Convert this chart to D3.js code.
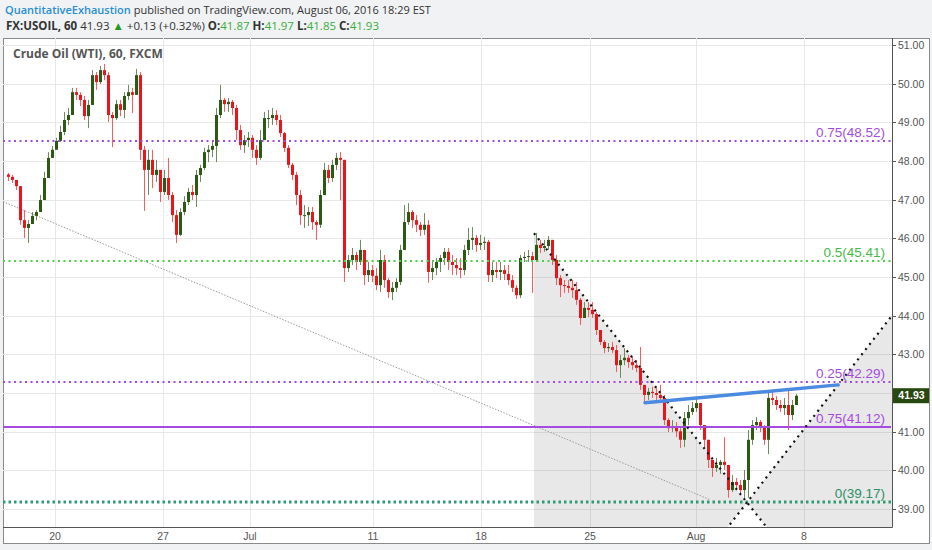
<!DOCTYPE html>
<html><head><meta charset="utf-8">
<script src="https://cdn.jsdelivr.net/npm/d3@7"></script>
<style>
html,body{margin:0;padding:0;background:#f0f2f4;}
svg{display:block;}
</style></head><body>
<svg id="c" width="932" height="550"></svg>
<script>
// ---------------- DATA ----------------
const firstOpen = 47.65;
const closes = [
47.59,47.51,47.35,46.47,46.27,46.37,46.58,46.68,46.99,47.56,
48.08,48.29,48.52,48.75,49.06,49.19,49.78,49.71,49.58,49.16,
49.45,50.22,50.04,50.35,50.22,49.19,49.11,49.47,49.32,49.68,
49.78,49.71,50.22,48.29,47.77,48.03,47.64,47.77,47.20,47.56,
47.12,46.60,46.09,46.68,46.94,47.20,47.12,47.64,47.82,48.23,
48.29,48.39,49.19,49.58,49.47,49.53,49.37,48.80,48.41,48.54,
48.60,48.29,48.08,48.54,49.11,49.11,49.19,49.06,48.72,48.34,
47.90,47.64,47.12,46.60,46.60,46.68,46.42,46.35,47.12,47.77,
47.56,47.90,48.08,48.03,45.23,45.44,45.57,45.39,45.70,45.05,
45.18,45.03,44.79,45.44,44.92,44.61,44.72,44.87,45.70,46.42,
46.68,46.47,46.35,46.22,46.35,45.13,45.23,45.39,45.49,45.65,
45.39,45.31,45.23,45.18,45.70,45.96,46.01,45.83,45.88,45.91,
45.05,45.18,45.13,45.18,45.08,44.92,44.72,44.53,45.49,45.52,
45.54,45.44,45.83,45.75,45.80,45.96,45.44,44.97,44.79,44.77,
44.72,44.66,44.41,43.94,44.20,44.15,44.04,43.63,43.32,43.16,
43.19,43.11,42.72,42.85,42.91,42.80,42.72,42.65,42.21,41.95,
42.03,42.00,41.95,41.87,41.30,41.09,41.12,41.01,40.79,41.35,
41.51,41.61,41.74,41.17,40.79,40.27,40.06,40.14,40.22,40.14,
39.49,39.70,39.62,39.49,39.75,40.79,41.17,41.25,41.12,40.79,
41.87,41.82,41.69,41.61,41.69,41.43,41.69,41.93];
const highs = [
47.69,47.64,47.51,46.99,46.73,46.47,46.68,46.73,47.12,47.72,
48.23,48.39,48.60,48.91,49.27,49.37,49.89,49.89,49.78,49.68,
49.58,50.35,50.30,50.46,50.51,50.30,49.27,49.58,49.58,49.78,
49.97,49.89,50.38,50.30,48.39,48.29,48.29,48.03,47.77,47.77,
48.08,47.20,46.73,46.78,47.09,47.30,47.38,47.77,47.90,48.34,
48.41,48.54,49.37,49.97,49.63,49.63,49.58,49.45,48.93,48.67,
48.75,48.67,48.41,48.80,49.27,49.32,49.37,49.32,49.19,48.75,
48.41,47.95,47.72,47.25,46.86,46.81,46.81,46.47,47.25,47.95,
47.90,48.03,48.21,48.23,48.03,45.57,45.75,45.65,45.96,45.70,
45.39,45.31,45.23,45.70,45.57,44.97,44.87,44.97,45.83,46.86,
46.91,46.73,46.60,46.42,46.65,46.47,45.39,45.49,45.57,45.75,
45.75,45.57,45.49,45.49,45.83,46.27,46.29,46.09,46.09,46.04,
45.96,45.39,45.39,45.39,45.31,45.31,45.05,44.79,45.57,45.65,
45.70,45.65,46.14,45.96,45.96,46.06,45.96,45.57,45.05,44.92,
44.92,44.92,44.87,44.46,44.35,44.35,44.35,44.09,43.63,43.37,
43.29,43.32,43.24,42.98,43.16,42.98,42.93,42.85,43.19,42.21,
42.13,42.16,42.13,42.21,41.95,41.35,41.30,41.25,41.09,41.51,
41.69,41.77,41.85,41.74,41.17,40.79,40.27,40.32,40.27,40.86,
40.14,39.88,39.80,39.75,40.01,41.04,41.30,41.38,41.30,41.17,
42.00,42.03,41.92,41.82,41.87,42.08,41.82,41.97];
const lows = [
47.48,47.43,47.25,46.35,46.01,45.88,46.42,46.47,46.68,46.99,
47.56,48.08,48.29,48.49,48.67,48.93,49.19,49.58,49.42,49.06,
48.85,49.45,49.84,49.99,50.09,49.01,48.36,49.06,49.16,49.11,
49.58,49.24,49.71,48.03,46.71,47.12,47.30,47.46,46.94,47.12,
46.99,46.42,45.88,46.06,46.60,46.86,46.99,46.81,47.46,47.77,
47.97,48.10,47.97,49.11,49.27,49.27,49.19,48.54,48.29,48.21,
48.36,48.08,47.90,48.03,48.67,48.85,48.93,48.93,48.62,48.23,
47.82,47.51,46.86,46.35,46.27,46.32,46.22,45.96,46.27,47.12,
47.43,47.46,47.77,46.99,44.87,45.13,45.31,45.18,45.31,44.79,
44.87,44.87,44.66,44.61,44.72,44.46,44.40,44.61,44.79,45.70,
46.35,46.27,46.16,46.06,46.09,44.85,44.92,45.05,45.13,45.31,
45.18,45.05,45.05,44.97,45.05,45.57,45.70,45.65,45.70,45.70,
44.87,44.87,44.97,44.92,44.92,44.79,44.61,44.43,44.46,45.39,
45.39,44.59,45.39,45.62,45.65,45.70,45.31,44.79,44.48,44.59,
44.59,44.46,44.28,43.76,43.94,43.96,43.94,43.50,43.24,43.03,
43.06,43.03,42.54,42.39,42.72,42.65,42.60,42.54,42.08,41.74,
41.82,41.87,41.82,41.82,41.17,40.99,40.99,40.86,40.58,40.60,
41.17,41.43,41.51,41.04,40.58,40.06,39.83,39.96,39.91,40.01,
39.29,39.44,39.49,39.36,39.29,39.29,40.66,41.04,40.99,40.66,
40.42,41.69,41.56,41.51,41.43,41.04,41.30,41.85];

const priceTicks = [39,40,41,42,43,44,45,46,47,48,49,50,51];
const timeTickLabels = ["20","27","Jul","11","18","25","Aug","8"];
const timeTickIndex = [11.75,38.75,60.5,91.25,118.25,145.5,172,199];

const fibPrices = [48.52,45.41,42.29,41.12,39.17];
const fibLabels = ["0.75(48.52)","0.5(45.41)","0.25(42.29)","0.75(41.12)","0(39.17)"];

// drawings, as [barIndex, price]
const fanTop = [131.5, 46.13];
const fanPivot = [184.75, 39.17];
const fanRise = [220.75, 43.97];
const blueLine = [[159.25, 41.75],[207.5, 42.21]];
const grayLine = [[-1.25, 46.95],[175.5, 39.24]];

const lastPrice = 41.93;

// ---------------- LAYOUT ----------------
const W = 932, H = 550;
const L = 3, R = 892, T = 38, B = 527, AX = 929, AB = 543;
const svg = d3.select("#c");
const x = d3.scaleLinear().domain([0, 197]).range([8, 796]);
const y = d3.scaleLinear().domain([39, 51]).range([509, 45]);

svg.append("defs").append("clipPath").attr("id","plot")
  .append("rect").attr("x",L).attr("y",T).attr("width",R-L).attr("height",B-T);

// chart frame background
svg.append("rect").attr("x",L+0.5).attr("y",T+0.5).attr("width",AX-L).attr("height",AB-T)
  .attr("fill","#fff").attr("stroke","#8a8a8a");

const plot = svg.append("g").attr("clip-path","url(#plot)");

// grid
plot.selectAll(".hg").data(priceTicks).join("line")
  .attr("x1",L).attr("x2",R).attr("y1",d=>Math.round(y(d))+0.5).attr("y2",d=>Math.round(y(d))+0.5)
  .attr("stroke","#e8e8e8");
plot.selectAll(".vg").data(timeTickIndex).join("line")
  .attr("y1",T).attr("y2",B).attr("x1",d=>Math.round(x(d))+0.5).attr("x2",d=>Math.round(x(d))+0.5)
  .attr("stroke","#e8e8e8");

// fan lines (screen coords from data)
const P = p => [x(p[0]), y(p[1])];
const pTop = P(fanTop), pPiv = P(fanPivot), pRise = P(fanRise);
const sD = (pPiv[1]-pTop[1])/(pPiv[0]-pTop[0]);
const sA = (pRise[1]-pPiv[1])/(pRise[0]-pPiv[0]);
const xDbot = pPiv[0] + (B - pPiv[1])/sD;
const xAbot = pPiv[0] + (B - pPiv[1])/sA;
const leftPoly = [[pTop[0],pTop[1]],[pPiv[0],pPiv[1]],[xAbot,B],[pTop[0],B]];
const rightPoly = [[pPiv[0],pPiv[1]],[xDbot,B],[R,B],[R,pPiv[1]+sA*(R-pPiv[0])]];
[leftPoly,rightPoly].forEach(pg=>{
  plot.append("path").attr("d","M"+pg.map(p=>p.join(",")).join("L")+"Z")
    .attr("fill","rgba(110,110,110,0.16)");
});

// thin gray diagonal
plot.append("line")
  .attr("x1",x(grayLine[0][0])).attr("y1",y(grayLine[0][1]))
  .attr("x2",x(grayLine[1][0])).attr("y2",y(grayLine[1][1]))
  .attr("stroke","#9a9a9a").attr("stroke-width",1).attr("stroke-dasharray","1.5,1.5");

// candles
const data = closes.map((c,i)=>({i, o: i===0?firstOpen:closes[i-1], c, h: highs[i], l: lows[i]}));
const cg = plot.append("g");
data.forEach(d=>{
  const up = d.c >= d.o;
  const hi = Math.max(d.h, d.o, d.c), lo = Math.min(d.l, d.o, d.c);
  const cx = Math.round(x(d.i));
  cg.append("line").attr("x1",cx+0.5).attr("x2",cx+0.5).attr("y1",y(hi)).attr("y2",y(lo))
    .attr("stroke", up ? "#6f8a5f" : "#ff5a5a").attr("stroke-width",1);
  const yt = y(Math.max(d.o,d.c)), yb = y(Math.min(d.o,d.c));
  cg.append("rect").attr("x",cx-1).attr("width",3).attr("y",yt).attr("height",Math.max(1,yb-yt))
    .attr("fill", up ? "#2c5a14" : "#e8161b");
});

// fib levels
const fibColor = ["#a64be0","#4ccf4c","#a64be0","#a64be0","#2e9a72"];
const fibText = ["#a64be0","#44bb44","#a64be0","#a64be0","#2e8f68"];
fibPrices.forEach((p,k)=>{
  const yy = Math.round(y(p));
  const ln = plot.append("line").attr("x1",L).attr("x2",R-1).attr("y1",yy).attr("y2",yy)
    .attr("stroke",fibColor[k]);
  if (k===3) ln.attr("stroke-width",2);
  else if (k===4) ln.attr("stroke-width",3).attr("stroke-dasharray","2.5,3");
  else ln.attr("stroke-width",2).attr("stroke-dasharray","2,3.5");
  svg.append("text").attr("x",885).attr("y",yy-4).attr("text-anchor","end")
    .attr("font-family","Liberation Sans, Arial, sans-serif").attr("font-size",13.5)
    .attr("fill",fibText[k]).text(fibLabels[k]);
});

// fan dotted lines
plot.append("line").attr("x1",pTop[0]).attr("y1",pTop[1]).attr("x2",xDbot+10).attr("y2",B+10*sD)
  .attr("stroke","#111").attr("stroke-width",2.2).attr("stroke-dasharray","2,4.5");
plot.append("line").attr("x1",xAbot-10).attr("y1",B-10*sA).attr("x2",pRise[0]).attr("y2",pRise[1])
  .attr("stroke","#111").attr("stroke-width",2.2).attr("stroke-dasharray","2,4.5");

// blue trend line
plot.append("line")
  .attr("x1",x(blueLine[0][0])).attr("y1",y(blueLine[0][1]))
  .attr("x2",x(blueLine[1][0])).attr("y2",y(blueLine[1][1]))
  .attr("stroke","#4a8ae0").attr("stroke-width",3.5).attr("stroke-linecap","round");

// plot/axis separators
svg.append("line").attr("x1",R+0.5).attr("x2",R+0.5).attr("y1",T).attr("y2",B+0.5).attr("stroke","#555");
svg.append("line").attr("x1",L).attr("x2",R+0.5).attr("y1",B+0.5).attr("y2",B+0.5).attr("stroke","#555");

// price axis
const ly = y(lastPrice);
const ya = svg.append("g");
priceTicks.forEach(p=>{
  const yy = Math.round(y(p))+0.5;
  ya.append("line").attr("x1",R).attr("x2",R+4).attr("y1",yy).attr("y2",yy).attr("stroke","#555");
  if (Math.abs(yy-ly) < 13) return; // hidden behind the last-price label
  ya.append("text").attr("x",R+6).attr("y",yy).attr("dy","0.35em")
    .attr("font-family","Liberation Sans Narrow, Liberation Sans, Arial, sans-serif").attr("font-size",10.5)
    .attr("fill","#555").text(p.toFixed(2));
});
// last price label
svg.append("rect").attr("x",R+1).attr("y",ly-7.5).attr("width",AX-R-1).attr("height",15).attr("fill","#27480f");
svg.append("text").attr("x",(R+AX)/2+1).attr("y",ly).attr("dy","0.36em").attr("text-anchor","middle")
  .attr("font-family","Liberation Sans, Arial, sans-serif").attr("font-size",10.5).attr("font-weight","bold")
  .attr("fill","#fff").text(lastPrice.toFixed(2));

// time axis
timeTickIndex.forEach((t,k)=>{
  svg.append("text").attr("x",x(t)).attr("y",540).attr("text-anchor","middle")
    .attr("font-family","Liberation Sans Narrow, Liberation Sans, Arial, sans-serif").attr("font-size",10.5)
    .attr("fill","#555").text(timeTickLabels[k]);
});

// chart title
svg.append("text").attr("x",13).attr("y",58)
  .attr("font-family","Open Sans, sans-serif").attr("font-size",12).attr("font-weight","bold")
  .attr("fill","#555").text("Crude Oil (WTI), 60, FXCM");

// header
const h1 = svg.append("text").attr("x",5).attr("y",14)
  .attr("font-family","Open Sans, sans-serif").attr("font-size",11).attr("fill","#333");
h1.append("tspan").attr("fill","#2a8fcf").attr("font-weight","600").text("QuantitativeExhaustion");
h1.append("tspan").text(" published on TradingView.com, August 06, 2016 18:29 EST");
const h2 = svg.append("text").attr("x",6).attr("y",30)
  .attr("font-family","Open Sans, sans-serif").attr("font-size",11.5).attr("fill","#333");
const G = "#3aae3a";
h2.append("tspan").attr("font-weight","bold").text("FX:USOIL, 60");
h2.append("tspan").text(" 41.93 ");
h2.append("tspan").attr("fill","#1f9a1f").text("▲");
h2.append("tspan").text(" +0.13 (+0.32%) ");
[["O:","41.87"],["H:","41.97"],["L:","41.85"],["C:","41.93"]].forEach((pr,k)=>{
  h2.append("tspan").attr("font-weight","bold").text((k?" ":"")+pr[0]);
  h2.append("tspan").attr("fill",G).text(pr[1]);
});
</script>
</body></html>
